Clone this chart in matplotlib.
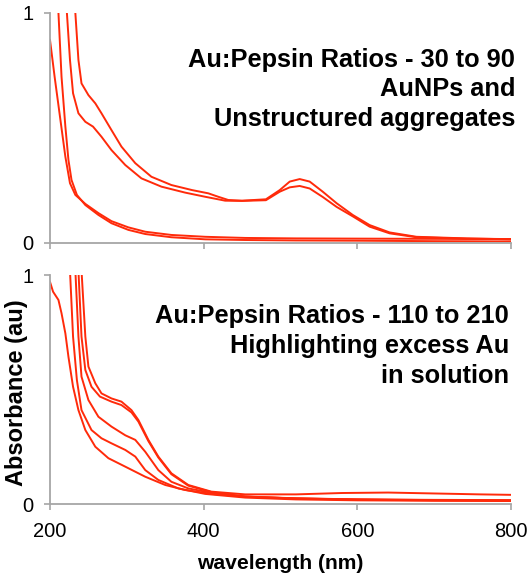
import matplotlib
matplotlib.use("Agg")
import matplotlib.pyplot as plt

plt.rcParams['font.family'] = ['Liberation Sans', 'DejaVu Sans']

RED = '#ff2a0a'
GREY = '#a6a6a6'

# ── top panel: Au:Pepsin 30 to 90 ─────────────────────────────────────────
# two spectra with the AuNP plasmon band (~525 nm)
wl_a = [228, 233, 237, 241, 250, 259, 267, 280, 293, 311, 332, 358, 385, 406,
        419, 432, 450, 481, 499, 512, 525, 538, 555, 573, 594, 616, 642, 677,
        742, 800]
abs_a = [1.15, 1.0, 0.796, 0.694, 0.643, 0.607, 0.564, 0.491, 0.419, 0.347,
         0.288, 0.252, 0.230, 0.216, 0.201, 0.187, 0.184, 0.19, 0.23, 0.267,
         0.278, 0.267, 0.223, 0.173, 0.122, 0.078, 0.046, 0.027, 0.02, 0.016]

wl_b = [218, 222, 226, 230, 237, 246, 256, 267, 280, 298, 319, 345, 376, 402,
        428, 450, 481, 499, 512, 525, 538, 555, 573, 594, 616, 642, 677, 742,
        800]
abs_b = [1.15, 1.0, 0.796, 0.651, 0.564, 0.527, 0.506, 0.462, 0.404, 0.339,
         0.281, 0.245, 0.219, 0.201, 0.184, 0.183, 0.186, 0.223, 0.242, 0.248,
         0.237, 0.20, 0.157, 0.116, 0.071, 0.042, 0.025, 0.019, 0.017]

# two spectra without a plasmon band
wl_c = [200, 206, 213, 220, 226, 233, 246, 263, 280, 302, 324, 358, 402, 454,
        520, 600, 700, 800]
abs_c = [0.883, 0.723, 0.549, 0.375, 0.26, 0.209, 0.17, 0.13, 0.095, 0.068,
         0.049, 0.035, 0.027, 0.022, 0.02, 0.019, 0.018, 0.017]

wl_d = [208, 211, 215, 220, 224, 228, 235, 246, 263, 280, 302, 324, 358, 402,
        454, 520, 600, 700, 800]
abs_d = [1.15, 1.0, 0.723, 0.506, 0.361, 0.274, 0.209, 0.165, 0.122, 0.086,
         0.057, 0.039, 0.025, 0.016, 0.013, 0.011, 0.01, 0.008, 0.007]

# ── bottom panel: Au:Pepsin 110 to 210 ────────────────────────────────────
wl_e = [200, 204, 211, 215, 220, 224, 230, 237, 246, 259, 276, 298, 324, 350,
        376, 411, 454, 520, 600, 700, 800]
abs_e = [0.97, 0.927, 0.891, 0.833, 0.745, 0.643, 0.512, 0.410, 0.323, 0.25,
         0.2, 0.163, 0.119, 0.083, 0.061, 0.044, 0.032, 0.025, 0.02, 0.017,
         0.015]

wl_f = [223, 226, 230, 235, 241, 254, 267, 280, 298, 311, 324, 341, 367, 402,
        454, 520, 600, 700, 800]
abs_f = [1.15, 1.02, 0.731, 0.541, 0.41, 0.323, 0.287, 0.265, 0.236, 0.207,
         0.148, 0.105, 0.068, 0.044, 0.028, 0.02, 0.016, 0.014, 0.013]

wl_g = [230, 233, 237, 241, 250, 263, 280, 298, 311, 324, 341, 358, 380, 410,
        454, 520, 600, 700, 800]
abs_g = [1.15, 1.02, 0.731, 0.556, 0.454, 0.381, 0.338, 0.30, 0.28, 0.228,
         0.148, 0.097, 0.068, 0.049, 0.033, 0.024, 0.019, 0.016, 0.015]

wl_h = [238, 241, 246, 250, 259, 267, 280, 293, 306, 315, 328, 341, 358, 380,
        410, 454, 520, 580, 640, 700, 760, 800]
abs_h = [1.15, 1.02, 0.731, 0.60, 0.527, 0.483, 0.461, 0.447, 0.41, 0.367,
         0.28, 0.207, 0.134, 0.083, 0.054, 0.042, 0.042, 0.048, 0.05, 0.046,
         0.042, 0.04]

wl_i = [234, 237, 241, 246, 254, 265, 280, 293, 306, 315, 328, 341, 358, 380,
        410, 454, 520, 600, 700, 800]
abs_i = [1.15, 1.02, 0.731, 0.585, 0.512, 0.469, 0.447, 0.432, 0.40, 0.36,
         0.275, 0.203, 0.13, 0.08, 0.052, 0.032, 0.024, 0.02, 0.018, 0.017]

top_series = [(wl_a, abs_a), (wl_b, abs_b), (wl_c, abs_c), (wl_d, abs_d)]
bottom_series = [(wl_e, abs_e), (wl_f, abs_f), (wl_g, abs_g),
                 (wl_h, abs_h), (wl_i, abs_i)]

x_ticks = [200, 400, 600, 800]
y_ticks = [0, 1]

top_note = ["Au:Pepsin Ratios - 30 to 90", "AuNPs and",
            "Unstructured aggregates"]
bottom_note = ["Au:Pepsin Ratios - 110 to 210", "Highlighting excess Au",
               "in solution"]


W, H = 532, 579
fig = plt.figure(figsize=(W / 100, H / 100), dpi=100)

ax_top = fig.add_axes([50 / W, 1 - 243 / H, 461 / W, 230 / H])
ax_bot = fig.add_axes([50 / W, 1 - 504 / H, 461 / W, 229 / H])


def style(ax, show_xlabels):
    ax.set_xlim(200, 800)
    ax.set_ylim(0, 1)
    ax.set_xticks(x_ticks)
    ax.set_yticks(y_ticks)
    for s in ['top', 'right']:
        ax.spines[s].set_visible(False)
    for s in ['left', 'bottom']:
        ax.spines[s].set_color(GREY)
        ax.spines[s].set_linewidth(1.3)
    ax.tick_params(direction='out', length=4, width=1.2, color=GREY,
                   labelsize=14.5)
    ax.tick_params(axis='x', pad=9)
    ax.tick_params(axis='y', pad=8)
    if not show_xlabels:
        ax.set_xticklabels([])


for wl, ab in top_series:
    ax_top.plot(wl, ab, color=RED, lw=1.4, solid_joinstyle='round')
for wl, ab in bottom_series:
    ax_bot.plot(wl, ab, color=RED, lw=1.4, solid_joinstyle='round')

style(ax_top, False)
style(ax_bot, True)

fig.text(280 / W, 1 - 569 / H, 'wavelength (nm)', fontsize=15.2,
         fontweight='bold', ha='center', va='baseline')
fig.text(17 / W, 1 - 393 / H, 'Absorbance (au)', rotation=90, fontsize=17,
         fontweight='bold', ha='center', va='center')

# panel notes, right aligned
for k, line in enumerate(top_note):
    fig.text(515 / W, 1 - (67 + 29.5 * k) / H, line, fontsize=18.3,
             fontweight='bold', ha='right', va='baseline')
for k, line in enumerate(bottom_note):
    fig.text(509 / W, 1 - (323 + 30 * k) / H, line, fontsize=18.3,
             fontweight='bold', ha='right', va='baseline')

plt.savefig('out.png', dpi=100)
